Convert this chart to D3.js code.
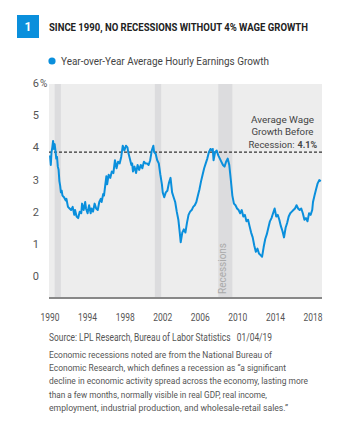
<!DOCTYPE html>
<html>
<head>
<meta charset="utf-8">
<script src="https://cdn.jsdelivr.net/npm/d3@7"></script>
<style>
  body { margin: 0; background: #fff; }
  svg text { font-family: "Roboto", "Liberation Sans", sans-serif; }
</style>
</head>
<body>
<svg id="chart" width="344" height="435"></svg>
<script>
// year-over-year average hourly earnings growth
var months = [
  "1990-01","1990-02","1990-03","1990-04","1990-05","1990-06","1990-07","1990-08","1990-09","1990-10","1990-11","1990-12",
  "1991-01","1991-02","1991-03","1991-04","1991-05","1991-07","1991-09","1991-10","1991-12",
  "1992-02","1992-04","1992-06","1992-08","1992-09","1992-11",
  "1993-01","1993-03","1993-05","1993-06","1993-08","1993-10","1993-11",
  "1994-01","1994-03","1994-05","1994-06","1994-08","1994-10","1994-12",
  "1995-02","1995-04","1995-06","1995-07","1995-09","1995-10","1995-11",
  "1996-01","1996-02","1996-04","1996-06","1996-08","1996-10","1996-12",
  "1997-02","1997-04","1997-06","1997-08","1997-10","1997-12",
  "1998-02","1998-04","1998-05","1998-07","1998-09","1998-10","1998-11",
  "1999-01","1999-03","1999-05","1999-07","1999-09","1999-11",
  "2000-01","2000-03","2000-05","2000-07","2000-09","2000-11",
  "2001-01","2001-02","2001-04","2001-06","2001-08","2001-10","2001-12",
  "2002-01","2002-03","2002-05","2002-07","2002-09","2002-11",
  "2003-01","2003-03","2003-05","2003-07","2003-09","2003-11","2003-12",
  "2004-02","2004-04","2004-06","2004-08","2004-10","2004-12",
  "2005-02","2005-04","2005-06","2005-08","2005-10","2005-12",
  "2006-02","2006-04","2006-06","2006-08","2006-10","2006-12",
  "2007-02","2007-04","2007-05","2007-06","2007-08","2007-10","2007-12",
  "2008-02","2008-04","2008-06","2008-08","2008-10","2008-12",
  "2009-02","2009-04","2009-06","2009-08","2009-10","2009-12",
  "2010-02","2010-04","2010-06","2010-08","2010-10","2010-12",
  "2011-02","2011-04","2011-06","2011-08","2011-10","2011-12",
  "2012-02","2012-04","2012-06","2012-08","2012-10","2012-12",
  "2013-02","2013-04","2013-06","2013-08","2013-10","2013-12",
  "2014-02","2014-04","2014-06","2014-08","2014-10","2014-12",
  "2015-02","2015-04","2015-06","2015-08","2015-10","2015-12",
  "2016-02","2016-04","2016-06","2016-08","2016-10","2016-12",
  "2017-02","2017-04","2017-06","2017-08","2017-10","2017-12",
  "2018-01","2018-03","2018-05","2018-07","2018-09","2018-11"
];
var growth = [
  3.75,3.45,3.85,4.0,4.2,3.95,4.1,3.9,3.65,3.7,3.4,3.3,
  2.95,2.8,2.6,2.65,2.5,2.45,2.35,2.4,2.15,
  2.1,2.05,2.15,1.9,2.05,1.85,
  1.8,2.0,1.95,2.25,2.05,2.3,2.1,
  1.95,2.2,1.95,2.1,2.0,2.25,2.1,
  2.05,2.3,2.4,2.3,2.55,2.5,2.7,
  3.1,2.85,3.15,3.05,3.25,3.2,3.6,
  3.35,3.55,3.5,3.7,4.05,3.9,
  4.05,4.0,3.85,3.65,3.45,3.5,3.25,
  3.4,3.2,3.45,3.3,3.45,3.35,
  3.55,3.5,3.5,3.45,3.6,3.9,
  4.05,3.85,3.8,3.6,3.5,3.15,2.85,
  2.6,2.45,2.6,2.65,2.9,3.05,
  2.6,2.45,2.3,2.0,1.75,1.3,1.05,
  1.35,1.45,1.35,1.65,1.9,2.0,
  2.05,2.15,2.2,2.3,2.5,2.7,
  2.95,3.15,3.35,3.5,3.65,3.85,
  3.95,3.9,3.95,3.6,3.85,3.9,3.75,
  3.65,3.55,3.45,3.4,3.55,3.65,
  3.45,3.0,2.5,2.25,2.2,2.1,
  2.05,1.95,2.05,1.85,1.9,1.7,
  1.75,1.55,1.35,1.2,0.95,0.75,
  0.85,0.7,0.65,0.6,0.9,1.15,
  1.3,1.5,1.7,1.8,1.95,2.1,
  1.85,1.9,1.75,1.55,1.4,1.2,
  1.5,1.65,1.85,1.95,2.0,2.05,
  2.1,2.2,2.1,2.05,2.1,1.95,
  1.75,1.8,1.7,1.95,1.9,2.05,
  2.3,2.5,2.7,2.88,2.98,2.95
];
// NBER recessions (start, end)
var recessionStarts = ["1990-07","2001-03","2007-12"];
var recessionEnds   = ["1991-03","2001-11","2009-06"];
var yTicks = [0, 1, 2, 3, 4, 5, 6];
var xTicks = [1990, 1994, 1998, 2002, 2006, 2010, 2014, 2018];
var avgBeforeRecession = 3.85;   // where the dashed line sits in the picture

var parseMonth = d3.timeParse("%Y-%m");
var svg = d3.select("#chart");

var x = d3.scaleTime()
  .domain([new Date(1990, 0, 1), new Date(2018, 0, 1)])
  .range([50, 313]);
var y = d3.scaleLinear().domain([0, 6]).range([276, 83]);

var plotLeft = 49, plotRight = 322, plotTop = 84, plotBottom = 298;

// the reference uses a condensed face, so squeeze text to the widths it shows
function squeeze(sel, width) {
  return sel.attr("textLength", width).attr("lengthAdjust", "spacingAndGlyphs");
}

// header
svg.append("rect").attr("x", 17).attr("y", 15).attr("width", 22).attr("height", 23)
  .attr("fill", "#0a8fdc");
svg.append("text").attr("x", 28).attr("y", 31).attr("text-anchor", "middle")
  .attr("fill", "#fff").attr("font-weight", "bold").attr("font-size", 12).text("1");
squeeze(svg.append("text").attr("x", 49).attr("y", 31)
  .attr("fill", "#222").attr("font-weight", "bold").attr("font-size", 10.5)
  .text("SINCE 1990, NO RECESSIONS WITHOUT 4% WAGE GROWTH"), 259);

// legend
svg.append("circle").attr("cx", 52).attr("cy", 61).attr("r", 3.6).attr("fill", "#0a8fdc");
squeeze(svg.append("text").attr("x", 61).attr("y", 65).attr("fill", "#444").attr("font-size", 11)
  .text("Year-over-Year Average Hourly Earnings Growth"), 208);

// plot background + recession bands
svg.append("rect").attr("x", plotLeft).attr("y", plotTop)
  .attr("width", plotRight - plotLeft).attr("height", plotBottom - plotTop)
  .attr("fill", "#ededed");
svg.selectAll("rect.band")
  .data(recessionStarts)
  .enter()
  .append("rect")
  .attr("class", "band")
  .attr("x", function (d) { return x(parseMonth(d)); })
  .attr("width", function (d, i) { return x(parseMonth(recessionEnds[i])) - x(parseMonth(d)); })
  .attr("y", plotTop)
  .attr("height", plotBottom - plotTop)
  .attr("fill", "#dcdcde");

squeeze(svg.append("text")
  .attr("transform", "translate(226,294) rotate(-90)")
  .attr("fill", "#aaa").attr("font-size", 10.5)
  .text("Recessions"), 51);

// y labels
svg.selectAll("text.ylab")
  .data(yTicks)
  .enter()
  .append("text")
  .attr("class", "ylab")
  .attr("x", 39)
  .attr("y", function (d) { return y(d) + 4; })
  .attr("text-anchor", "end")
  .attr("fill", "#555").attr("font-size", 11)
  .text(function (d) { return d; });
svg.append("text").attr("x", 40).attr("y", y(6) + 4).attr("fill", "#555").attr("font-size", 10).text("%");

// dashed average line
svg.append("line")
  .attr("x1", plotLeft).attr("x2", plotRight)
  .attr("y1", y(avgBeforeRecession)).attr("y2", y(avgBeforeRecession))
  .attr("stroke", "#333").attr("stroke-width", 1.1).attr("stroke-dasharray", "3,2");

// the series
var series = months.map(function (m, i) { return { date: parseMonth(m), value: growth[i] }; });
var line = d3.line()
  .x(function (d) { return x(d.date); })
  .y(function (d) { return y(d.value); });
svg.append("path").datum(series)
  .attr("d", line)
  .attr("fill", "none").attr("stroke", "#0a8fdc").attr("stroke-width", 2)
  .attr("stroke-linejoin", "round");

// x axis line + labels
svg.append("line").attr("x1", plotLeft).attr("x2", plotRight)
  .attr("y1", plotBottom).attr("y2", plotBottom)
  .attr("stroke", "#888").attr("stroke-width", 2);
svg.selectAll("text.xlab")
  .data(xTicks)
  .enter()
  .append("text")
  .attr("class", "xlab")
  .attr("x", function (d) { return x(new Date(d, 0, 1)); })
  .attr("y", 321)
  .attr("text-anchor", "middle")
  .attr("fill", "#555").attr("font-size", 10.5)
  .attr("textLength", 19).attr("lengthAdjust", "spacingAndGlyphs")
  .text(function (d) { return d; });

// annotation
var note = svg.append("g").attr("fill", "#444").attr("font-size", 9.8);
squeeze(note.append("text").attr("x", 282.5).attr("y", 122.5).attr("text-anchor", "middle")
  .text("Average Wage"), 63);
squeeze(note.append("text").attr("x", 282.5).attr("y", 135).attr("text-anchor", "middle")
  .text("Growth Before"), 62);
squeeze(note.append("text").attr("x", 294.5).attr("y", 148).attr("text-anchor", "end")
  .text("Recession:"), 46);
squeeze(note.append("text").attr("x", 297.5).attr("y", 148).attr("font-weight", "bold")
  .text("4.1%"), 19.5);

// footer
squeeze(svg.append("text").attr("x", 49).attr("y", 341).attr("fill", "#555").attr("font-size", 10)
  .attr("xml:space", "preserve")
  .text("Source: LPL Research, Bureau of Labor Statistics   01/04/19"), 223);
var paragraph = [
  "Economic recessions noted are from the National Bureau of",
  "Economic Research, which defines a recession as \u201ca significant",
  "decline in economic activity spread across the economy, lasting more",
  "than a few months, normally visible in real GDP, real income,",
  "employment, industrial production, and wholesale-retail sales.\u201d"
];
var paragraphWidths = [223, 237, 259, 218, 239];
svg.selectAll("text.para")
  .data(paragraph)
  .enter()
  .append("text")
  .attr("class", "para")
  .attr("x", 49)
  .attr("y", function (d, i) { return 358 + i * 13.2; })
  .attr("fill", "#555").attr("font-size", 9.5)
  .attr("textLength", function (d, i) { return paragraphWidths[i]; })
  .attr("lengthAdjust", "spacingAndGlyphs")
  .text(function (d) { return d; });
</script>
</body>
</html>
